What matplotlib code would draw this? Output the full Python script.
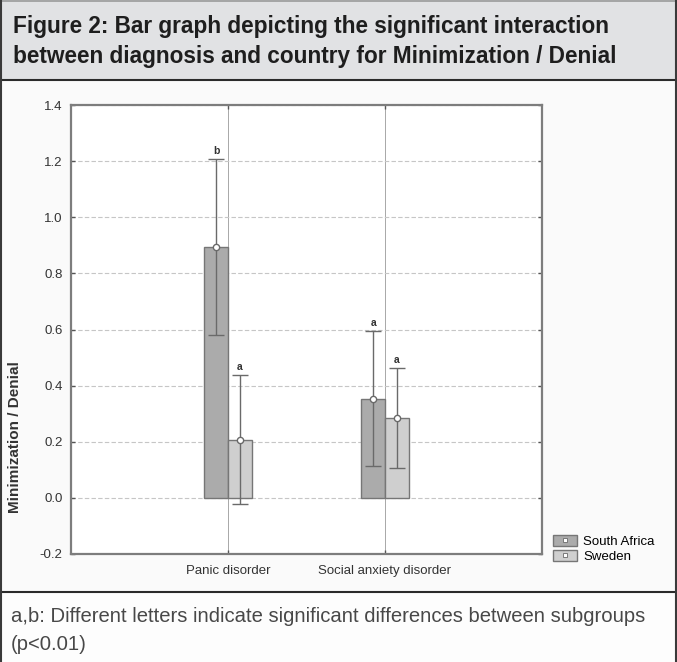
import matplotlib
matplotlib.use('Agg')
import matplotlib.pyplot as plt
from matplotlib.patches import Patch, Rectangle
from matplotlib.lines import Line2D
from matplotlib import font_manager
import numpy as np

# ---------------- data ----------------
categories = ['Panic disorder', 'Social anxiety disorder']
series = ['South Africa', 'Sweden']
means_sa = [0.894, 0.353]
err_sa = [0.314, 0.240]
means_se = [0.207, 0.285]
err_se = [0.230, 0.177]
letters_sa = ['b', 'a']
letters_se = ['a', 'a']
yticks = [-0.2, 0.0, 0.2, 0.4, 0.6, 0.8, 1.0, 1.2, 1.4]
ytick_labels = ['-0.2', '0.0', '0.2', '0.4', '0.6', '0.8', '1.0', '1.2', '1.4']
ylabel = 'Minimization / Denial'
title_lines = ['Figure 2: Bar graph depicting the significant interaction',
               'between diagnosis and country for Minimization / Denial']
caption_lines = ['a,b: Different letters indicate significant differences between subgroups',
                 '(p<0.01)']

# ---------------- styling ----------------
W, H = 677, 662
names = {f.name for f in font_manager.fontManager.ttflist}
title_family = 'Liberation Sans Narrow' if 'Liberation Sans Narrow' in names else 'Liberation Sans'
plt.rcParams['font.family'] = ['Liberation Sans', 'DejaVu Sans']

c_sa = '#ababab'
c_se = '#cfcfcf'
c_edge = '#767676'
c_err = '#6a6a6a'

fig = plt.figure(figsize=(W / 100, H / 100), dpi=100)
fig.patch.set_facecolor('#fafafa')


def fx(px):
    return px / W


def fy(px):
    return 1 - px / H


# title box & caption backgrounds
fig.add_artist(Rectangle((0, fy(80)), 1, 80 / H, transform=fig.transFigure,
                         facecolor='#e1e2e4', edgecolor='none', zorder=0))
fig.add_artist(Rectangle((0, 0), 1, fy(592), transform=fig.transFigure,
                         facecolor='#fdfdfd', edgecolor='none', zorder=0))
for ypx, col, lw in [(80, '#2b2b2b', 1.5), (592, '#2b2b2b', 1.5), (0.5, '#9a9a9a', 1.2)]:
    fig.add_artist(Line2D([0, 1], [fy(ypx)] * 2, transform=fig.transFigure, color=col, lw=lw))
for xpx in [0.6, 675.5]:
    fig.add_artist(Line2D([fx(xpx)] * 2, [0, 1], transform=fig.transFigure, color='#3a3a3a', lw=1.5))

# ---------------- axes ----------------
ax = fig.add_axes([fx(71), fy(554), fx(542) - fx(71), (554 - 105) / H])
ax.set_facecolor('white')
x = np.arange(len(categories))
bw = 0.15
x_sa = x - bw / 2
x_se = x + bw / 2

ax.bar(x_sa, means_sa, width=bw, color=c_sa, edgecolor=c_edge, linewidth=1.0, zorder=2)
ax.bar(x_se, means_se, width=bw, color=c_se, edgecolor=c_edge, linewidth=1.0, zorder=2)
for xs, m, e in [(x_sa, means_sa, err_sa), (x_se, means_se, err_se)]:
    ax.errorbar(xs, m, yerr=e, fmt='o', color=c_err, mfc='white', mec=c_err, ms=4.5,
                capsize=5.5, elinewidth=1.0, capthick=1.0, zorder=3)
for xs, m, e, lt in [(x_sa, means_sa, err_sa, letters_sa), (x_se, means_se, err_se, letters_se)]:
    for xi, mi, ei, li in zip(xs, m, e, lt):
        ax.text(xi, mi + ei + 0.012, li, ha='center', va='bottom', fontsize=7.5,
                fontweight='bold', color='#333333', zorder=4)

ax.set_xlim(-1, 2)
ax.set_ylim(-0.2, 1.4)
ax.set_yticks(yticks)
ax.set_yticklabels(ytick_labels)
ax.set_xticks(x)
ax.set_xticklabels(categories)

ax.yaxis.grid(True, linestyle=(0, (4, 2)), color='#c6c6c6', lw=0.8, zorder=0)
ax.xaxis.grid(True, linestyle='-', color='#a8a8a8', lw=0.7, zorder=0)
ax.set_axisbelow(True)
for s in ax.spines.values():
    s.set_color('#7d7d7d')
    s.set_linewidth(1.6)
ax.tick_params(direction='in', length=3, width=1, color='#555555', labelsize=9.5,
               labelcolor='#333333', left=True, right=True, top=True, bottom=True)
ax.tick_params(axis='y', pad=6)
ax.tick_params(axis='x', pad=8)

fig.text(fx(15), fy(437), ylabel, rotation=90, ha='center', va='center',
         fontsize=11, fontweight='bold', color='#333333')

handles = [(Patch(facecolor=c, edgecolor=c_edge, lw=1.0),
            Line2D([], [], marker='s', ls='none', mfc='white', mec=c_err, ms=3, mew=0.6))
           for c in (c_sa, c_se)]
ax.legend(handles, series, loc='upper left', bbox_to_anchor=(fx(553), fy(535)),
          bbox_transform=fig.transFigure, frameon=False, fontsize=9.5,
          handlelength=1.8, handleheight=0.9, handletextpad=0.5, labelspacing=0.12,
          borderpad=0, borderaxespad=0)

# ---------------- title & caption ----------------
renderer = fig.canvas.get_renderer()


def fit(t, target):
    bb = t.get_window_extent(renderer)
    t.set_fontsize(t.get_fontsize() * target / bb.width)


t1 = fig.text(fx(13), fy(33), title_lines[0], ha='left', va='baseline', fontsize=16,
              fontweight='bold', color='#1e1e1e', family=[title_family, 'DejaVu Sans'])
t2 = fig.text(fx(13), fy(63), title_lines[1], ha='left', va='baseline', fontsize=16,
              fontweight='bold', color='#1e1e1e', family=[title_family, 'DejaVu Sans'])
fit(t1, 596)
t2.set_fontsize(t1.get_fontsize())

c1 = fig.text(fx(11), fy(622), caption_lines[0], ha='left', va='baseline', fontsize=13,
              color='#484848')
c2 = fig.text(fx(11), fy(650), caption_lines[1], ha='left', va='baseline', fontsize=13,
              color='#484848')
fit(c1, 634)
c2.set_fontsize(c1.get_fontsize())

fig.savefig('out.png', dpi=100, facecolor=fig.get_facecolor())
